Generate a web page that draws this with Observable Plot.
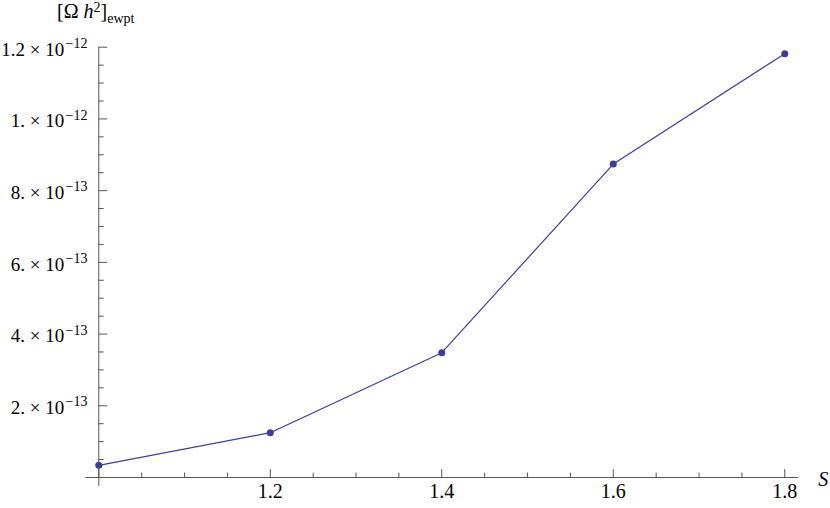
<!DOCTYPE html>
<html>
<head>
<meta charset="utf-8">
<script src="https://cdn.jsdelivr.net/npm/d3@7"></script>
<script src="https://cdn.jsdelivr.net/npm/@observablehq/plot@0.6"></script>
<style>
  html, body { margin: 0; padding: 0; background: #fff; }
  #wrap { position: relative; width: 830px; height: 508px; }
  #title { position: absolute; left: 57px; top: 2px; font-family: 'Liberation Serif', 'Times New Roman', 'DejaVu Serif', serif; font-size: 20px; line-height: 19px; color: #000; white-space: nowrap; z-index: 2; }
  #title .sup { position: relative; top: -6px; font-size: 14px; }
  #title .sub { position: relative; top: 5px; font-size: 14px; }
</style>
</head>
<body>
<div id="wrap">
  <div id="title">[Ω <i>h</i><span class="sup">2</span>]<span class="sub">ewpt</span></div>
</div>
<script>
// Data
const S = [1.0, 1.2, 1.4, 1.6, 1.8];
const omegaH2 = [3.4e-14, 1.25e-13, 3.48e-13, 8.74e-13, 1.182e-12];

// Axis ticks
const xMajor = [1.0, 1.2, 1.4, 1.6, 1.8];
const xLabelVals = [1.2, 1.4, 1.6, 1.8];
const xLabels = ["1.2", "1.4", "1.6", "1.8"];
const xMinor = [1.05, 1.1, 1.15, 1.25, 1.3, 1.35, 1.45, 1.5, 1.55, 1.65, 1.7, 1.75];
const yMajor = [2e-13, 4e-13, 6e-13, 8e-13, 1e-12, 1.2e-12];
const yMantissa = ["2. \u00d7 10", "4. \u00d7 10", "6. \u00d7 10", "8. \u00d7 10", "1. \u00d7 10", "1.2 \u00d7 10"];
const yExponent = ["\u221213", "\u221213", "\u221213", "\u221213", "\u221212", "\u221212"];
const yMinor = [0.5e-13, 1e-13, 1.5e-13, 2.5e-13, 3e-13, 3.5e-13, 4.5e-13, 5e-13, 5.5e-13, 6.5e-13, 7e-13, 7.5e-13, 8.5e-13, 9e-13, 9.5e-13, 1.05e-12, 1.1e-12, 1.15e-12];
const xAxisExtent = [0.985, 1.816];
const yAxisExtent = [-0.25e-13, 1.2e-12];
const xAxisLabel = "S";

const data = S.map((s, i) => ({s, v: omegaH2[i]}));

const axisColor = "#555";
const seriesColor = "#3d3d99";
const serif = "'Liberation Serif', 'Times New Roman', 'DejaVu Serif', serif";
const tickShape = {draw(context, l) { context.moveTo(0, 0); context.lineTo(0, -l); }};

const chart = Plot.plot({
  width: 830,
  height: 508,
  marginLeft: 98.3,
  marginRight: 32,
  marginTop: 46.7,
  marginBottom: 31,
  x: {domain: [1, 1.816], axis: null},
  y: {domain: [0, 1.2e-12], axis: null},
  style: {fontFamily: serif, color: "#000", background: "transparent"},
  marks: [
    // axis lines
    Plot.ruleY([0], {x1: xAxisExtent[0], x2: xAxisExtent[1], stroke: axisColor, strokeWidth: 1}),
    Plot.ruleX([1], {y1: yAxisExtent[0], y2: yAxisExtent[1], stroke: axisColor, strokeWidth: 1}),
    // x ticks
    Plot.vector(xMajor, {x: d => d, y: () => 0, length: 8, rotate: 0, anchor: "start", shape: tickShape, stroke: axisColor, strokeWidth: 1}),
    Plot.vector(xMinor, {x: d => d, y: () => 0, length: 4.5, rotate: 0, anchor: "start", shape: tickShape, stroke: axisColor, strokeWidth: 1}),
    // y ticks
    Plot.vector(yMajor, {x: () => 1, y: d => d, length: 8, rotate: 90, anchor: "start", shape: tickShape, stroke: axisColor, strokeWidth: 1}),
    Plot.vector(yMinor, {x: () => 1, y: d => d, length: 4.5, rotate: 90, anchor: "start", shape: tickShape, stroke: axisColor, strokeWidth: 1}),
    // x tick labels
    Plot.text(xLabelVals, {x: d => d, y: () => 0, text: (d, i) => xLabels[i], lineAnchor: "bottom", dy: 20, fontSize: 20, fontFamily: serif, fill: "#000"}),
    // y tick labels
    Plot.text(yMajor, {frameAnchor: "left", y: d => d, text: (d, i) => yMantissa[i], textAnchor: "end", lineAnchor: "bottom", dx: -34.5, dy: 8.3, fontSize: 19, fontFamily: serif, fill: "#000"}),
    Plot.text(yMajor, {frameAnchor: "left", y: d => d, text: (d, i) => yExponent[i], textAnchor: "start", lineAnchor: "bottom", dx: -33.3, dy: 0.6, fontSize: 14, fontFamily: serif, fill: "#000"}),
    // x axis label
    Plot.text([xAxisLabel], {frameAnchor: "right", y: () => 0, text: d => d, textAnchor: "start", lineAnchor: "bottom", dx: 19.7, dy: 8, fontSize: 20, fontStyle: "italic", fontFamily: serif, fill: "#000"}),
    // data
    Plot.line(data, {x: "s", y: "v", stroke: seriesColor, strokeWidth: 1.2}),
    Plot.dot(data, {x: "s", y: "v", r: 3.5, fill: seriesColor, stroke: "none"})
  ]
});
chart.style.position = "absolute";
chart.style.left = "0";
chart.style.top = "0";
document.getElementById("wrap").appendChild(chart);
</script>
</body>
</html>
